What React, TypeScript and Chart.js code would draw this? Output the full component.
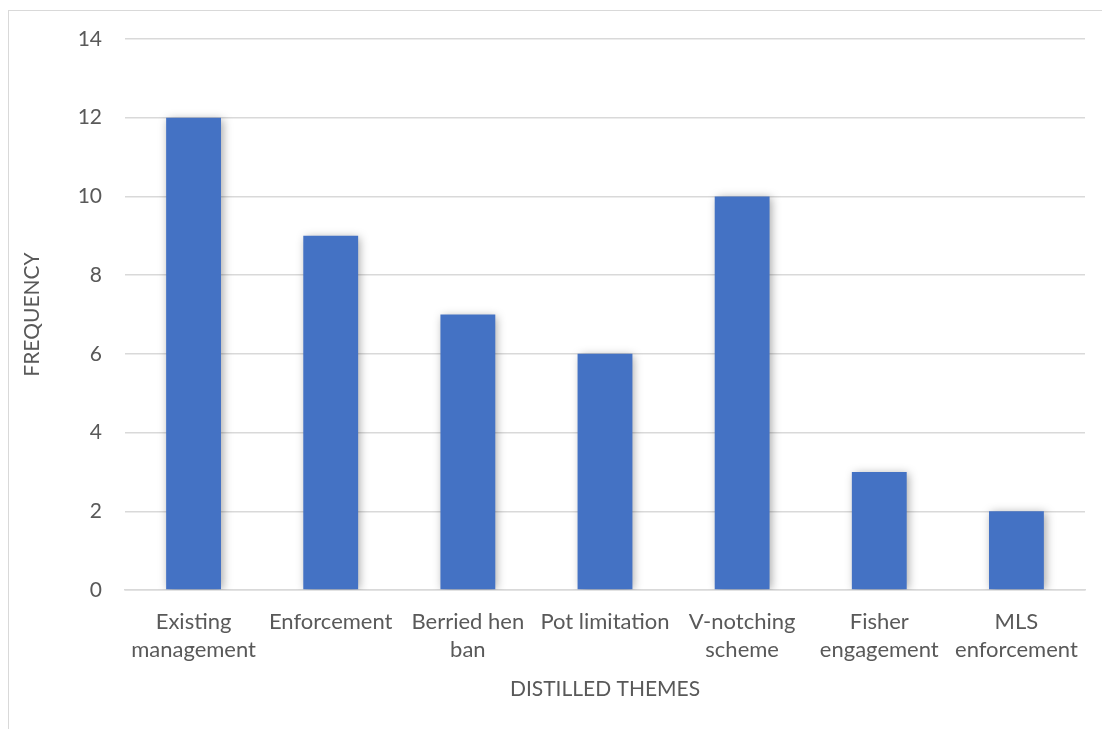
import React, { useEffect, useRef } from "react";
import { Chart, registerables } from "chart.js";

Chart.register(...registerables);

const themes: string[][] = [
  ["Existing", "management"],
  ["Enforcement"],
  ["Berried hen", "ban"],
  ["Pot limitation"],
  ["V-notching", "scheme"],
  ["Fisher", "engagement"],
  ["MLS", "enforcement"],
];
const frequency: number[] = [12, 9, 7, 6, 10, 3, 2];
const yTicks: number[] = [0, 2, 4, 6, 8, 10, 12, 14];

const xTitle = "DISTILLED THEMES";
const yTitle = "FREQUENCY";

const FONT = "Lato, 'Open Sans', sans-serif";
const TEXT = "#595959";

// soft shadow behind the bars
const barShadow = {
  id: "barShadow",
  beforeDatasetsDraw(chart: any) {
    const ctx = chart.ctx;
    ctx.save();
    ctx.shadowColor = "rgba(0,0,0,0.35)";
    ctx.shadowBlur = 9;
    ctx.shadowOffsetX = 2;
    ctx.shadowOffsetY = 1;
  },
  afterDatasetsDraw(chart: any) {
    chart.ctx.restore();
  },
};

// axis titles drawn at fixed spots around the plot
const axisTitles = {
  id: "axisTitles",
  afterDraw(chart: any) {
    const ctx = chart.ctx;
    const area = chart.chartArea;
    ctx.save();
    ctx.fillStyle = TEXT;
    ctx.font = `21px ${FONT}`;
    ctx.textAlign = "center";
    ctx.textBaseline = "middle";
    ctx.fillText(xTitle, (area.left + area.right) / 2, 689);
    ctx.translate(32, (area.top + area.bottom) / 2);
    ctx.rotate(-Math.PI / 2);
    ctx.fillText(yTitle, 0, 0);
    ctx.restore();
  },
};

export default function App() {
  const ref = useRef<HTMLCanvasElement>(null);

  useEffect(() => {
    if (!ref.current) return;
    const chart = new Chart(ref.current, {
      type: "bar",
      data: {
        labels: themes,
        datasets: [
          {
            data: frequency,
            backgroundColor: "#4472C4",
            borderWidth: 0,
            categoryPercentage: 0.8,
            barPercentage: 0.5,
          },
        ],
      },
      options: {
        animation: false,
        responsive: false,
        devicePixelRatio: 1,
        layout: { padding: { top: 39, right: 17, left: 0, bottom: 0 } },
        plugins: {
          legend: { display: false },
          tooltip: { enabled: false },
        },
        scales: {
          x: {
            grid: { display: false, drawTicks: false },
            border: { display: true, color: "#d9d9d9", width: 1.5 },
            ticks: {
              color: TEXT,
              font: { family: FONT, size: 22, lineHeight: 1.27 },
              padding: 18,
              maxRotation: 0,
              autoSkip: false,
            },
            afterFit(scale: any) {
              scale.height = 729 - 590;
            },
          },
          y: {
            min: 0,
            max: 14,
            afterBuildTicks(scale: any) {
              scale.ticks = yTicks.map((v) => ({ value: v }));
            },
            grid: { color: "#d9d9d9", lineWidth: 1.5, drawTicks: false },
            border: { display: false },
            ticks: {
              color: TEXT,
              font: { family: FONT, size: 21 },
              padding: 23,
            },
            afterFit(scale: any) {
              scale.width = 125;
            },
          },
        },
      },
      plugins: [barShadow, axisTitles],
    });
    return () => chart.destroy();
  }, []);

  return (
    <div style={{ position: "fixed", left: 0, top: 0, width: 1102, height: 729, background: "#fff" }}>
      <div
        style={{
          position: "absolute",
          left: 8,
          top: 10,
          width: 1200,
          height: 800,
          borderLeft: "1.5px solid #d9d9d9",
          borderTop: "1.5px solid #d9d9d9",
        }}
      />
      <canvas ref={ref} width={1102} height={729} style={{ position: "absolute", left: 0, top: 0 }} />
    </div>
  );
}
